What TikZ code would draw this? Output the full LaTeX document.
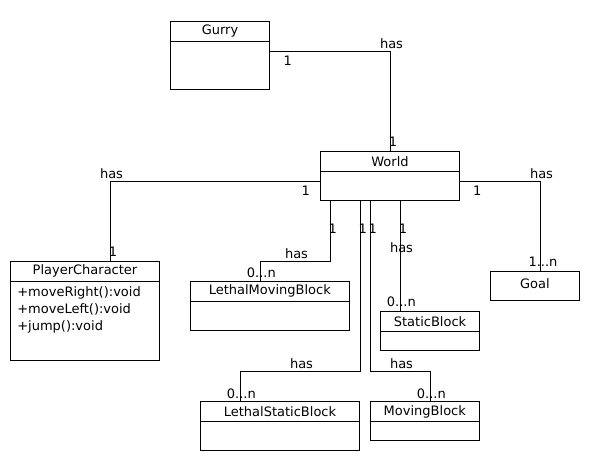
\documentclass[tikz,border=0pt]{standalone}
\usepackage{fontspec}
\setmainfont{DejaVu Sans}
\begin{document}
\begin{tikzpicture}[x=1pt,y=-1pt,line width=1pt,
  every node/.style={inner sep=0pt,outer sep=0pt,font=\fontsize{13}{15}\selectfont},
  box/.style={draw,fill=white,anchor=north west,rectangle},
  lbl/.style={anchor=center},
  conn/.style={draw,line width=1pt}]
\useasboundingbox (0,0) rectangle (601,473);
% class boxes
\node[box,minimum width=98.6pt,minimum height=68.7pt] (gurry) at (170.7,21.3) {};
\draw (gurry.north west) ++(0,20.4) -- ++(98.6,0);
\node at (220,31.5) {Gurry};

\node[box,minimum width=138.6pt,minimum height=48.7pt] (world) at (320.7,151.3) {};
\draw (world.north west) ++(0,20) -- ++(138.6,0);
\node at (390,161.3) {World};

\node[box,minimum width=148.6pt,minimum height=99pt] (pc) at (10.7,261) {};
\draw (pc.north west) ++(0,20) -- ++(148.6,0);
\node at (85,271) {PlayerCharacter};
\node[anchor=west] at (17.3,292.5) {+moveRight():void};
\node[anchor=west] at (17.3,309.8) {+moveLeft():void};
\node[anchor=west] at (17.3,326.6) {+jump():void};

\node[box,minimum width=159pt,minimum height=49pt] (lmb) at (190.3,281) {};
\draw (lmb.north west) ++(0,20.7) -- ++(159,0);
\node at (269.8,291.3) {LethalMovingBlock};

\node[box,minimum width=89pt,minimum height=28.7pt] (goal) at (490.3,271.3) {};
\node at (534.8,283.5) {Goal};

\node[box,minimum width=98.6pt,minimum height=39pt] (sb) at (380.7,311.3) {};
\draw (sb.north west) ++(0,20.4) -- ++(98.6,0);
\node at (430,321.5) {StaticBlock};

\node[box,minimum width=158.6pt,minimum height=49pt] (lsb) at (200.7,401.3) {};
\draw (lsb.north west) ++(0,20) -- ++(158.6,0);
\node at (280,411.3) {LethalStaticBlock};

\node[box,minimum width=109pt,minimum height=38.3pt] (mb) at (370.3,401.7) {};
\draw (mb.north west) ++(0,20) -- ++(109,0);
\node at (424.8,411.7) {MovingBlock};

% connectors
\draw[conn] ([yshift=-30pt]gurry.north east) -| (world.north);
\draw[conn] ([yshift=19pt]world.south west) -| ([xshift=99.6pt]pc.north west);
\draw[conn] ([yshift=19pt]world.south east) -| ([xshift=50pt]goal.north west);
\draw[conn] ([xshift=9.6pt]world.south west) -- ++(0,61) -| ([xshift=70pt]lmb.north west);
\draw[conn] ([xshift=79.6pt]world.south west) -- ([xshift=19.6pt]sb.north west);
\draw[conn] ([xshift=40pt]world.south west) -- ++(0,171.3) -| ([xshift=39.6pt]lsb.north west);
\draw[conn] ([xshift=49.6pt]world.south west) -- ++(0,171.3) -| ([xshift=60pt]mb.north west);

% labels
\node[lbl] (l1) at (391.5,43.3) {has};
\node[lbl] (l2) at (287.8,61) {1};
\node[lbl] (l3) at (393,141.7) {1};
\node[lbl] (l4) at (111.5,173.3) {has};
\node[lbl] (l5) at (305.7,191) {1};
\node[lbl] (l6) at (113,251.3) {1};
\node[lbl] (l7) at (332.7,229.2) {1};
\node[lbl] (l8) at (296.5,253.7) {has};
\node[lbl] (l9) at (261.3,272.3) {0...n};
\node[lbl] (l10) at (362.8,229.2) {1};
\node[lbl] (l11) at (372.8,229.2) {1};
\node[lbl] (l12) at (403,229.2) {1};
\node[lbl] (l13) at (401.5,248) {has};
\node[lbl] (l14) at (401.3,302) {0...n};
\node[lbl] (l15) at (541.5,173.3) {has};
\node[lbl] (l16) at (477.3,191) {1};
\node[lbl] (l17) at (543,262) {1...n};
\node[lbl] (l18) at (301.5,363.3) {has};
\node[lbl] (l19) at (241.3,393.3) {0...n};
\node[lbl] (l20) at (401.5,363.3) {has};
\node[lbl] (l21) at (431.3,393.3) {0...n};
\end{tikzpicture}
\end{document}
